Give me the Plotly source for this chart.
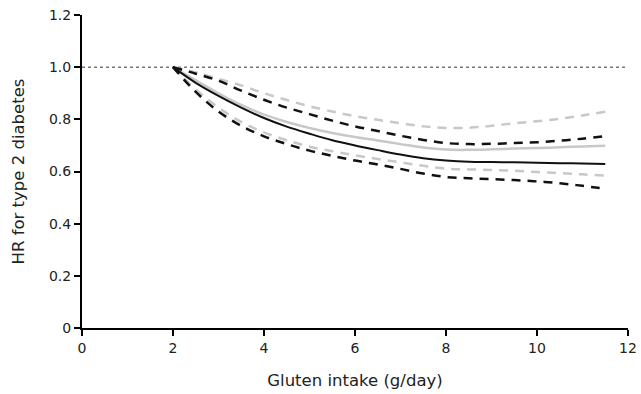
import plotly.graph_objects as go

x_vals = [2, 2.5, 3, 3.5, 4, 4.5, 5, 5.5, 6, 6.5, 7, 7.5, 8, 8.5, 9, 9.5, 10, 10.5, 11, 11.5]

black_hr = [1.0, 0.94, 0.89, 0.845, 0.805, 0.772, 0.745, 0.72, 0.70, 0.682, 0.665, 0.651, 0.642, 0.637, 0.636, 0.635, 0.634, 0.632, 0.631, 0.629]
black_upper = [1.0, 0.975, 0.948, 0.91, 0.875, 0.845, 0.82, 0.795, 0.773, 0.755, 0.737, 0.721, 0.709, 0.705, 0.706, 0.709, 0.712, 0.718, 0.726, 0.736]
black_lower = [1.0, 0.905, 0.83, 0.775, 0.735, 0.705, 0.68, 0.66, 0.642, 0.627, 0.61, 0.592, 0.579, 0.574, 0.571, 0.567, 0.562, 0.555, 0.545, 0.534]

gray_hr = [1.0, 0.95, 0.9, 0.855, 0.818, 0.79, 0.767, 0.748, 0.732, 0.719, 0.705, 0.692, 0.684, 0.683, 0.685, 0.688, 0.69, 0.693, 0.696, 0.699]
gray_upper = [1.0, 0.98, 0.955, 0.93, 0.90, 0.874, 0.85, 0.83, 0.812, 0.798, 0.785, 0.773, 0.767, 0.768, 0.775, 0.785, 0.793, 0.802, 0.815, 0.829]
gray_lower = [1.0, 0.915, 0.845, 0.79, 0.75, 0.72, 0.695, 0.678, 0.662, 0.648, 0.635, 0.622, 0.611, 0.608, 0.606, 0.603, 0.598, 0.594, 0.589, 0.584]

x_ticks = [0, 2, 4, 6, 8, 10, 12]
y_ticks = [0, 0.2, 0.4, 0.6, 0.8, 1.0, 1.2]
y_tick_text = ["0", "0.2", "0.4", "0.6", "0.8", "1.0", "1.2"]
ref_x = [0, 12]
ref_y = [1.0, 1.0]

GRAY = "#c8c8c8"
BLACK = "#111111"

fig = go.Figure()
fig.add_trace(go.Scatter(x=ref_x, y=ref_y, mode="lines",
                         line=dict(color="#333333", width=1, dash="3px,3px")))
for ys in (gray_upper, gray_lower):
    fig.add_trace(go.Scatter(x=x_vals, y=ys, mode="lines",
                             line=dict(color=GRAY, width=2.5, dash="9px,7px", shape="spline")))
fig.add_trace(go.Scatter(x=x_vals, y=gray_hr, mode="lines",
                         line=dict(color=GRAY, width=2.5, shape="spline")))
for ys in (black_upper, black_lower):
    fig.add_trace(go.Scatter(x=x_vals, y=ys, mode="lines",
                             line=dict(color=BLACK, width=2.5, dash="9px,7px", shape="spline")))
fig.add_trace(go.Scatter(x=x_vals, y=black_hr, mode="lines",
                         line=dict(color=BLACK, width=2, shape="spline")))

fig.update_layout(
    width=641, height=394,
    margin=dict(l=82, r=13, t=15, b=66),
    paper_bgcolor="white", plot_bgcolor="white",
    showlegend=False,
    font=dict(family="DejaVu Sans, Liberation Sans, sans-serif", size=14, color="#222222"),
    xaxis=dict(range=[0, 12], tickvals=x_ticks, ticks="outside", ticklen=6,
               tickwidth=1.5, tickcolor="black", showline=True, linecolor="black",
               linewidth=2, showgrid=False, zeroline=False, automargin=False,
               title=dict(text="Gluten intake (g/day)", font=dict(size=16.5), standoff=20)),
    yaxis=dict(range=[0, 1.2], tickvals=y_ticks, ticktext=y_tick_text, ticks="outside",
               ticklen=6, tickwidth=1.5, tickcolor="black", showline=True,
               linecolor="black", linewidth=2, showgrid=False, zeroline=False,
               automargin=False,
               title=dict(text="HR for type 2 diabetes", font=dict(size=16.5), standoff=20)),
)

fig.write_html("out.html", config={"displayModeBar": False},
               post_script="document.body.style.margin='0';")
